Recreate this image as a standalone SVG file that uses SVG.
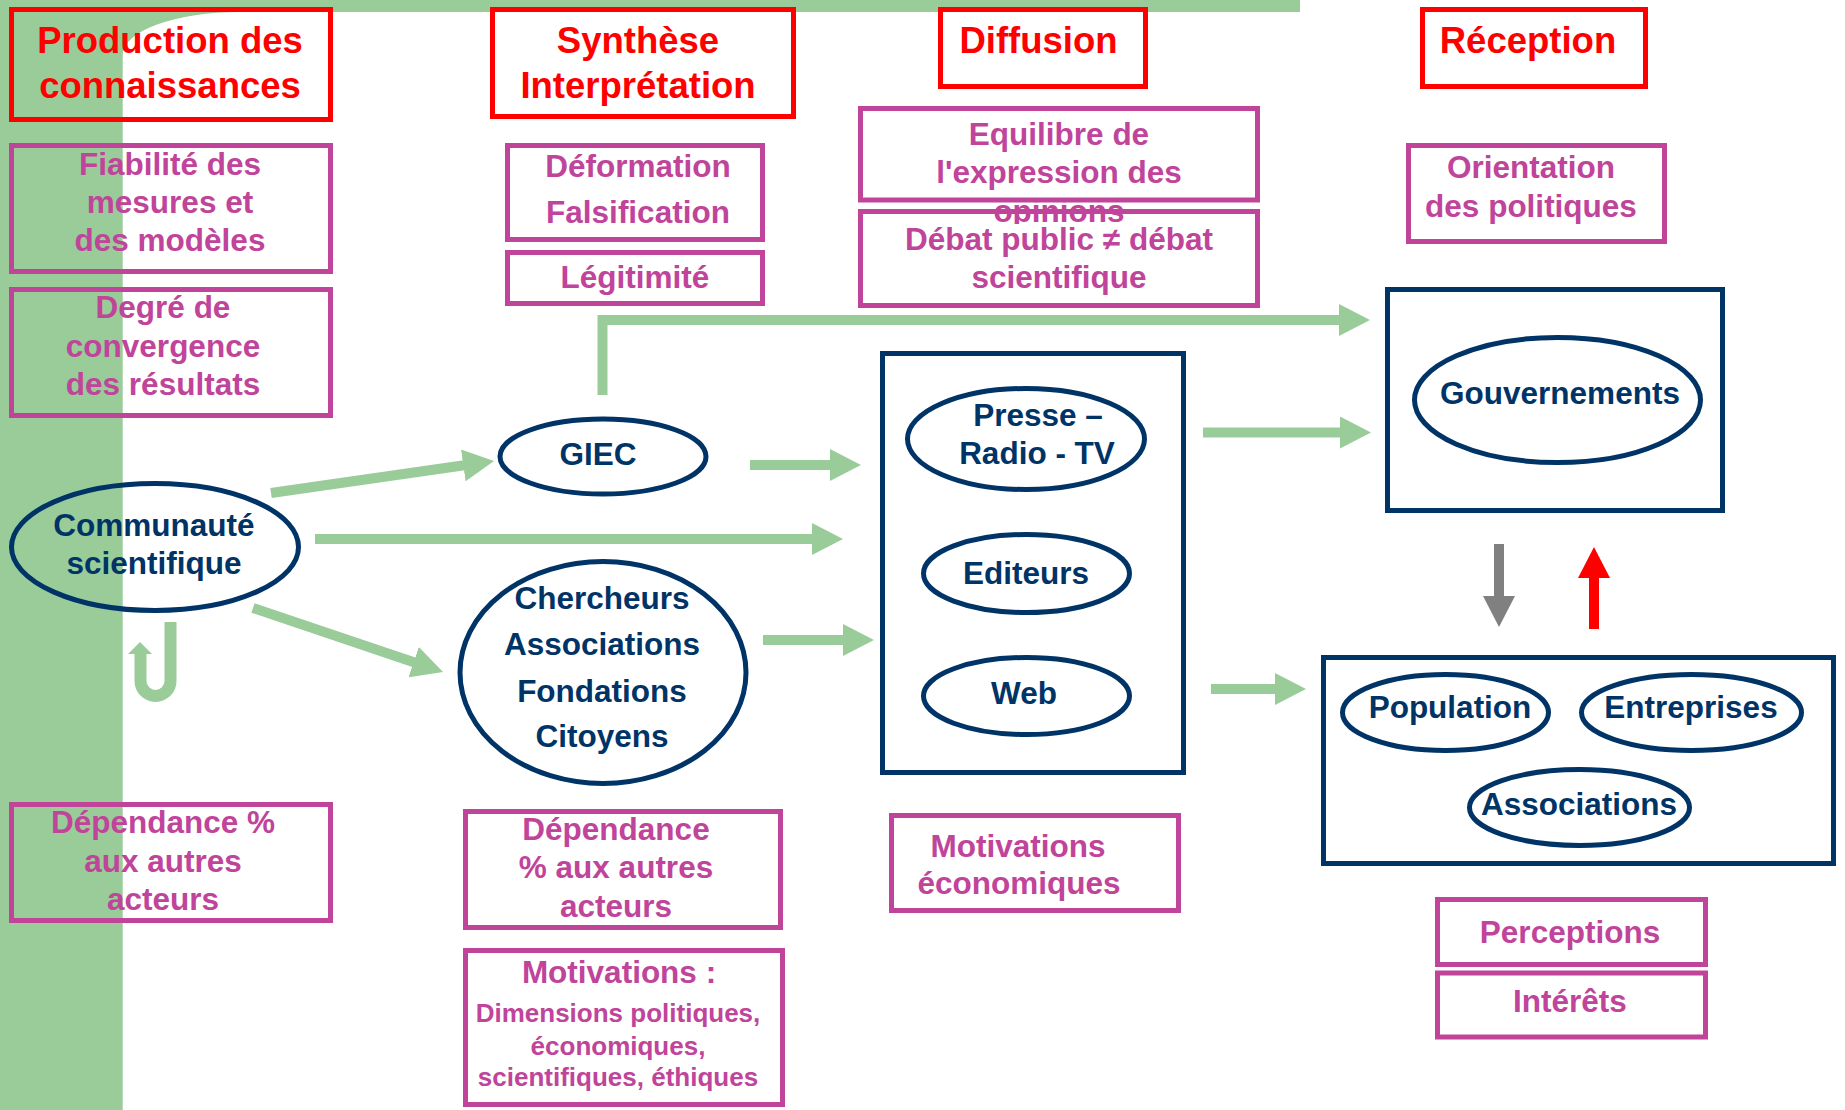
<svg xmlns="http://www.w3.org/2000/svg" width="1845" height="1110" viewBox="0 0 1845 1110">
<style>
.hdr{fill:none;stroke:#FF0000;stroke-width:5}
.pk{fill:none;stroke:#C0449A;stroke-width:5}
.nv{fill:none;stroke:#003366;stroke-width:5}
text{font-family:"Liberation Sans",Arial,sans-serif;font-weight:bold;text-anchor:middle}
.th{font-size:36.5px;fill:#FF0000}
.tp{font-size:31.5px;fill:#C0449A}
.ts{font-size:26px;fill:#C0449A}
.tn{font-size:31.5px;fill:#003366}
.ag{fill:none;stroke:#99CC99;stroke-width:10;marker-end:url(#hg)}
</style>
<defs>
<marker id="hg" markerUnits="userSpaceOnUse" viewBox="0 0 32 32" markerWidth="32" markerHeight="32" refX="1" refY="16" orient="auto"><path d="M0,0 L31,16 L0,32 Z" fill="#99CC99"/></marker>
<marker id="hgray" markerUnits="userSpaceOnUse" viewBox="0 0 32 32" markerWidth="32" markerHeight="32" refX="1" refY="16" orient="auto"><path d="M0,0 L31,16 L0,32 Z" fill="#808080"/></marker>
<marker id="hred" markerUnits="userSpaceOnUse" viewBox="0 0 32 32" markerWidth="32" markerHeight="32" refX="1" refY="16" orient="auto"><path d="M0,0 L31,16 L0,32 Z" fill="#FF0000"/></marker>
<clipPath id="clipEq"><rect x="0" y="0" width="1845" height="224"/></clipPath>
</defs>
<rect width="1845" height="1110" fill="#FFFFFF"/>
<path id="background" d="M0,0 H1300 V12 H240 A117.3,43 0 0 0 122.7,55 V1110 H0 Z" fill="#99CC99"/>

<g id="connectors">
<path class="ag" d="M271,493 L464.3,465.3"/>
<path class="ag" d="M315,539 H813"/>
<path class="ag" d="M253,608 L414.6,662.4"/>
<path class="ag" d="M750,465 H831"/>
<path class="ag" d="M763,640 H844"/>
<path class="ag" d="M602.5,395 V320 H1340" stroke-linejoin="miter"/>
<path class="ag" d="M1203,432.5 H1341"/>
<path class="ag" d="M1211,689 H1276"/>
<path d="M1499,544 V597" fill="none" stroke="#808080" stroke-width="10" marker-end="url(#hgray)"/>
<path d="M1594,629 V577" fill="none" stroke="#FF0000" stroke-width="10" marker-end="url(#hred)"/>
<path d="M170.5,622 V681 A15,15 0 0 1 140.5,681 V653" fill="none" stroke="#99CC99" stroke-width="12"/>
<polygon points="128,654 152,654 140,642" fill="#99CC99"/>
</g>

<g id="h-production"><rect class="hdr" x="11.5" y="9.5" width="319" height="110"/>
<text class="th" x="170" y="53">Production des</text><text class="th" x="170" y="98">connaissances</text></g>
<g id="h-synthese"><rect class="hdr" x="492.5" y="9.5" width="301" height="107"/>
<text class="th" x="638" y="53">Synthèse</text><text class="th" x="638" y="98">Interprétation</text></g>
<g id="h-diffusion"><rect class="hdr" x="940.5" y="9.5" width="205" height="77"/>
<text class="th" x="1038.5" y="53">Diffusion</text></g>
<g id="h-reception"><rect class="hdr" x="1422.5" y="9.5" width="223" height="77"/>
<text class="th" x="1528" y="53">Réception</text></g>

<g id="p-fiabilite"><rect class="pk" x="11.5" y="145.5" width="319" height="126"/>
<text class="tp" x="170" y="175">Fiabilité des</text><text class="tp" x="170" y="213">mesures et</text><text class="tp" x="170" y="251">des modèles</text></g>
<g id="p-degre"><rect class="pk" x="11.5" y="289.5" width="319" height="126"/>
<text class="tp" x="163" y="318">Degré de</text><text class="tp" x="163" y="357">convergence</text><text class="tp" x="163" y="395">des résultats</text></g>
<g id="p-dependance1"><rect class="pk" x="11.5" y="804.5" width="319" height="116"/>
<text class="tp" x="163" y="833">Dépendance %</text><text class="tp" x="163" y="872">aux autres</text><text class="tp" x="163" y="910">acteurs</text></g>

<g id="p-deformation"><rect class="pk" x="507.5" y="145.5" width="255" height="94"/>
<text class="tp" x="638" y="177">Déformation</text><text class="tp" x="638" y="223">Falsification</text></g>
<g id="p-legitimite"><rect class="pk" x="507.5" y="252.5" width="255" height="51"/>
<text class="tp" x="635" y="288">Légitimité</text></g>
<g id="p-dependance2"><rect class="pk" x="465.5" y="811.5" width="315" height="116"/>
<text class="tp" x="616" y="840">Dépendance</text><text class="tp" x="616" y="878">% aux autres</text><text class="tp" x="616" y="917">acteurs</text></g>
<g id="p-motivations"><rect class="pk" x="465.5" y="950.5" width="317" height="154"/>
<text class="tp" x="619" y="983">Motivations :</text>
<text class="ts" x="618" y="1022">Dimensions politiques,</text><text class="ts" x="618" y="1055">économiques,</text><text class="ts" x="618" y="1086">scientifiques, éthiques</text></g>

<g id="p-equilibre"><rect class="pk" x="860.5" y="108.5" width="397" height="91.5"/>
<g clip-path="url(#clipEq)"><text class="tp" x="1059" y="145">Equilibre de</text><text class="tp" x="1059" y="183">l'expression des</text><text class="tp" x="1059" y="221.5">opinions</text></g></g>
<g id="p-debat"><rect class="pk" x="860.5" y="211.5" width="397" height="94"/>
<text class="tp" x="1059" y="250">Débat public ≠ débat</text><text class="tp" x="1059" y="288">scientifique</text></g>
<g id="p-motiveco"><rect class="pk" x="891.5" y="815.5" width="287" height="95"/>
<text class="tp" x="1018" y="857">Motivations</text><text class="tp" x="1019" y="894">économiques</text></g>

<g id="p-orientation"><rect class="pk" x="1408.5" y="145.5" width="256" height="96"/>
<text class="tp" x="1531" y="178">Orientation</text><text class="tp" x="1531" y="217">des politiques</text></g>
<g id="p-perceptions"><rect class="pk" x="1437.5" y="899.5" width="268" height="65"/>
<text class="tp" x="1570" y="943">Perceptions</text></g>
<g id="p-interets"><rect class="pk" x="1437.5" y="973" width="268" height="64"/>
<text class="tp" x="1570" y="1012">Intérêts</text></g>

<g id="n-communaute"><ellipse class="nv" cx="155" cy="547" rx="143.5" ry="63.5"/>
<text class="tn" x="154" y="536">Communauté</text><text class="tn" x="154" y="574">scientifique</text></g>
<g id="n-giec"><ellipse class="nv" cx="603" cy="456.5" rx="103" ry="37.5"/>
<text class="tn" x="598" y="465">GIEC</text></g>
<g id="n-chercheurs"><ellipse class="nv" cx="603" cy="672.5" rx="143" ry="111"/>
<text class="tn" x="602" y="609">Chercheurs</text><text class="tn" x="602" y="655">Associations</text><text class="tn" x="602" y="702">Fondations</text><text class="tn" x="602" y="747">Citoyens</text></g>

<g id="n-media"><rect class="nv" x="882.5" y="353.5" width="301" height="419"/></g>
<g id="n-presse"><ellipse class="nv" cx="1026" cy="439" rx="118.5" ry="50.5"/>
<text class="tn" x="1038" y="426">Presse –</text><text class="tn" x="1037" y="464">Radio - TV</text></g>
<g id="n-editeurs"><ellipse class="nv" cx="1026.5" cy="573.5" rx="103" ry="39"/>
<text class="tn" x="1026" y="584">Editeurs</text></g>
<g id="n-web"><ellipse class="nv" cx="1026.5" cy="696" rx="103" ry="38.5"/>
<text class="tn" x="1024" y="704">Web</text></g>

<g id="n-gouvbox"><rect class="nv" x="1387.5" y="289.5" width="335" height="221"/></g>
<g id="n-gouvernements"><ellipse class="nv" cx="1557.5" cy="400" rx="143" ry="62.5"/>
<text class="tn" x="1560" y="404">Gouvernements</text></g>

<g id="n-popbox"><rect class="nv" x="1323.5" y="657.5" width="510" height="206"/></g>
<g id="n-population"><ellipse class="nv" cx="1445.5" cy="712.5" rx="103" ry="38"/>
<text class="tn" x="1450" y="718">Population</text></g>
<g id="n-entreprises"><ellipse class="nv" cx="1691.5" cy="712.5" rx="110" ry="38"/>
<text class="tn" x="1691" y="718">Entreprises</text></g>
<g id="n-associations"><ellipse class="nv" cx="1579.5" cy="807.5" rx="110" ry="38"/>
<text class="tn" x="1579" y="815">Associations</text></g>
</svg>
